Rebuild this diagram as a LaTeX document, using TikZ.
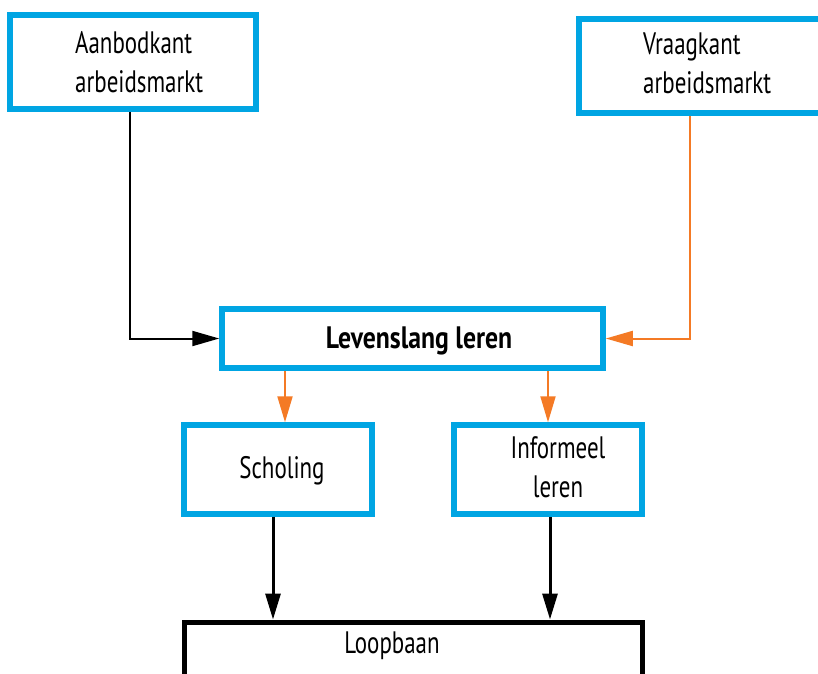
\documentclass[tikz,border=0pt]{standalone}
\usepackage{fontspec}
\setmainfont[FakeStretch=0.74, BoldFeatures={FakeStretch=0.83}]{PT Sans}
\usetikzlibrary{arrows.meta}
\definecolor{bblue}{HTML}{00A5E3}
\definecolor{oorange}{HTML}{F47A25}
\tikzset{
  bluebox/.style={draw=bblue, line width=5.5pt, minimum width=#1, inner sep=0pt},
  blackbox/.style={draw=black, line width=5pt, inner sep=0pt},
  txt/.style={align=center, font=\fontsize{31}{39}\selectfont, inner sep=0pt},
  ltxt/.style={align=left, font=\fontsize{31}{39}\selectfont, inner sep=0pt},
  btxt/.style={align=center, font=\fontsize{31}{39}\selectfont\bfseries, inner sep=0pt},
  blk/.style={draw=black, line width=2pt},
  org/.style={draw=oorange, line width=2pt},
  bigtip/.style={-{Triangle[length=27pt, width=15pt]}},
  midtip/.style={-{Triangle[length=26pt, width=15pt]}},
}
\begin{document}
\begin{tikzpicture}[x=1pt, y=-1pt]
\useasboundingbox (0,0) rectangle (818,673);
\clip (0,0) rectangle (818,673);
% boxes
\node[bluebox=246pt, minimum height=94pt] (aan) at (133,62) {};
\node[bluebox=246pt, minimum height=94pt] (vra) at (702,66) {};
\node[bluebox=381pt, minimum height=59pt] (lev) at (412.5,338.5) {};
\node[bluebox=188pt, minimum height=89pt] (sch) at (278,469.5) {};
\node[bluebox=188pt, minimum height=89pt] (inf) at (548,469.5) {};
\node[blackbox, minimum width=458pt, minimum height=80pt] (loop) at (413,662) {};
% texts
\node[ltxt, anchor=base west] (aant) at (75,92) {Aanbodkant\\arbeidsmarkt};
\node[ltxt, anchor=base west] (vrat) at (643,93) {Vraagkant\\arbeidsmarkt};
\node[btxt, anchor=base] (levt) at (419,348) {Levenslang leren};
\node[txt, anchor=base] (scht) at (282,478) {Scholing};
\node[txt, anchor=base] (inft) at (558,497) {Informeel\\leren};
\node[txt, anchor=base] (loopt) at (392,653) {Loopbaan};
% connectors
\draw[blk, bigtip] ([xshift=-3pt]aan.south) |- (lev.west);
\draw[org, bigtip] ([xshift=-12pt]vra.south) |- (lev.east);
\draw[org, midtip] (lev.south -| 285,0) -- (sch.north -| 285,0);
\draw[org, midtip] (lev.south -| inf.north) -- (inf.north);
\draw[blk, line width=3pt, midtip] (sch.south -| 273,0) -- (loop.north -| 273,0);
\draw[blk, line width=3pt, midtip] (inf.south -| 550,0) -- (loop.north -| 550,0);
\end{tikzpicture}
\end{document}
